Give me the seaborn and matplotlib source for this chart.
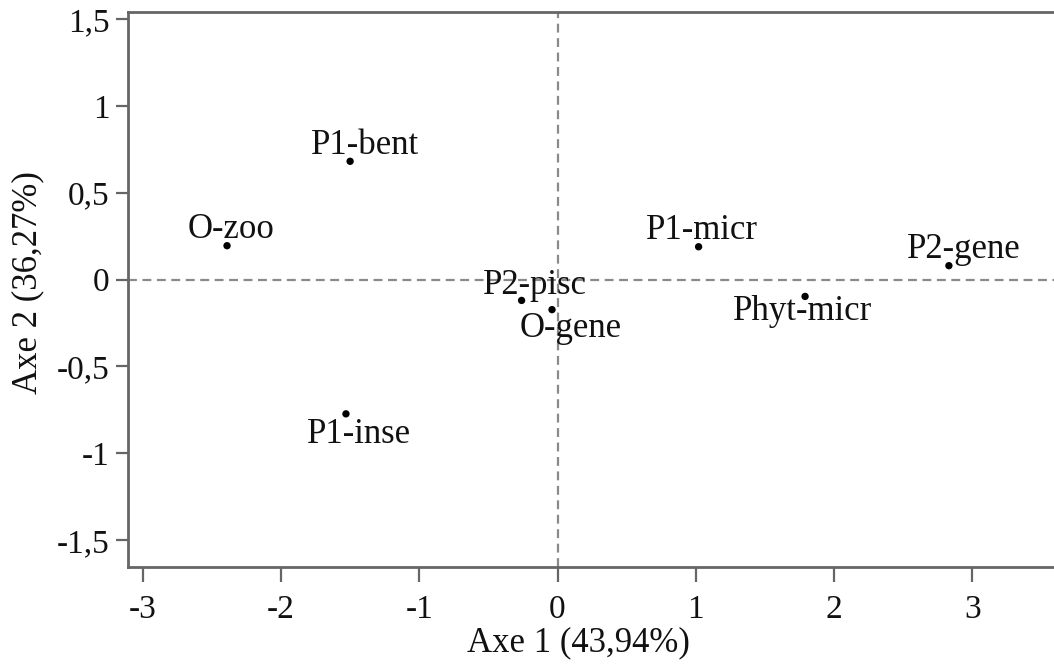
import matplotlib
matplotlib.use("Agg")
import matplotlib.pyplot as plt
import seaborn as sns
import pandas as pd

# ---- data ----
labels = ["O-zoo", "P1-bent", "P1-inse", "P2-pisc", "O-gene", "P1-micr", "Phyt-micr", "P2-gene"]
axe1 = [-2.39, -1.50, -1.53, -0.26, -0.04, 1.02, 1.79, 2.83]
axe2 = [0.195, 0.681, -0.773, -0.120, -0.173, 0.189, -0.097, 0.080]
xticks = [-3, -2, -1, 0, 1, 2, 3]
yticks = [-1.5, -1, -0.5, 0, 0.5, 1, 1.5]
xlabel = "Axe 1 (43,94%)"
ylabel = "Axe 2 (36,27%)"

# label offsets (pixels, baseline relative to point)
offsets = {
    "O-zoo": (4, 8), "P1-bent": (15, 7), "P1-inse": (13, -29), "P2-pisc": (13, 6),
    "O-gene": (19, -27), "P1-micr": (3, 8), "Phyt-micr": (-2, -24), "P2-gene": (15, 8),
}

df = pd.DataFrame({"label": labels, "x": axe1, "y": axe2})

sns.set_style("ticks")
plt.rcParams['font.family'] = ['Liberation Serif', 'DejaVu Serif']

fig = plt.figure(figsize=(10.54, 6.72), dpi=100)
ax = fig.add_axes([0.1212, 0.1567, 0.8788, 0.8253])

ax.axhline(0, color="#8a8a8a", lw=1.6, ls=(0, (4, 2.5)), zorder=1)
ax.axvline(0, color="#8a8a8a", lw=1.6, ls=(0, (4, 2.5)), zorder=1)

sns.scatterplot(data=df, x="x", y="y", ax=ax, color="black", s=28, edgecolor="none", zorder=3)

for lab, x, y in zip(labels, axe1, axe2):
    dx, dy = offsets[lab]
    ax.annotate(lab, (x, y), xytext=(dx, dy), textcoords="offset pixels",
                ha="center", va="baseline", fontsize=25, color="#111111")

ax.set_xlim(-3.108, 3.59)
ax.set_ylim(-1.653, 1.54)
ax.set_xticks(xticks)
ax.set_xticklabels([str(t) for t in xticks])
ax.set_yticks(yticks)
ax.set_yticklabels([("%g" % t).replace(".", ",") for t in yticks])

for s in ["left", "bottom", "top"]:
    ax.spines[s].set_color("#666666")
    ax.spines[s].set_linewidth(2)
ax.spines["right"].set_visible(False)

ax.tick_params(axis="x", length=11, width=1.6, color="#666666", pad=9, labelsize=24, labelcolor="#111111")
ax.tick_params(axis="y", length=9, width=1.6, color="#666666", pad=4, labelsize=24, labelcolor="#111111")

ax.set_xlabel(xlabel, fontsize=25, color="#111111", va="center")
ax.set_ylabel(ylabel, fontsize=25, color="#111111", va="center")
ax.xaxis.set_label_coords((578 - 127.7) / 926.3, (566.7 - 643) / 554.7)
ax.yaxis.set_label_coords((28 - 127.7) / 926.3, (566.7 - 283) / 554.7)

fig.savefig("out.png", dpi=100)
